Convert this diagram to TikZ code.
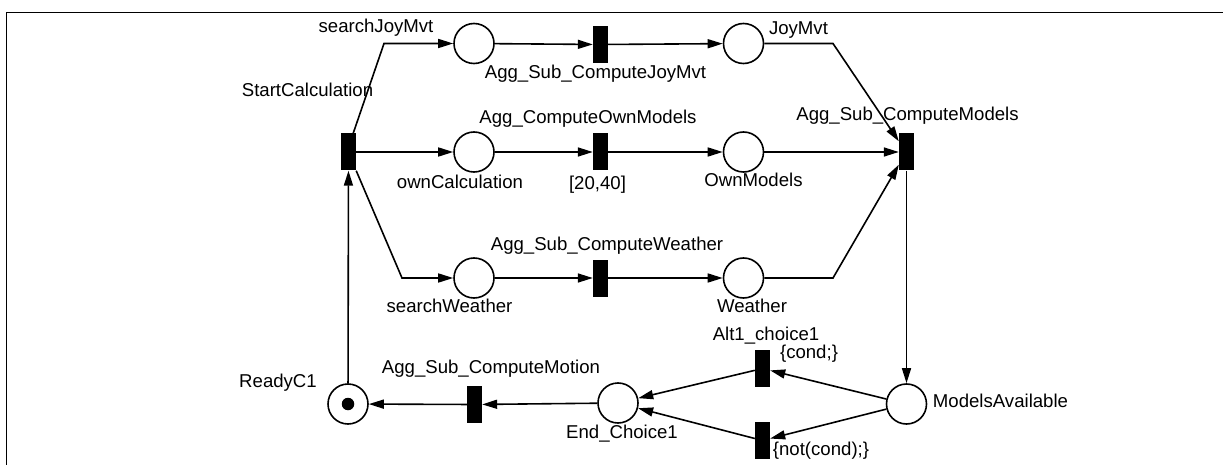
\documentclass[tikz,border=0pt]{standalone}
\usepackage{fontspec}
\setmainfont{Liberation Sans}
\usetikzlibrary{arrows.meta,calc}
\begin{document}
\begin{tikzpicture}[x=1pt,y=-1pt,
  place/.style={circle,draw,line width=1.6pt,minimum size=40pt,inner sep=0pt},
  trans/.style={rectangle,fill=black,minimum width=15pt,minimum height=37pt,inner sep=0pt},
  arc/.style={line width=1.6pt,-{Triangle[length=15pt,width=9pt]}},
  lbl/.style={anchor=base,inner sep=0pt,font=\fontsize{18.6}{22}\selectfont},
  token/.style={circle,fill=black,minimum size=12.5pt,inner sep=0pt}
]
\useasboundingbox (0,0) rectangle (1223,465);
\draw[line width=1pt] (6,470) -- (6,12.5) -- (1230,12.5);

% transitions
\node[trans] (sc)   at (348.5,152) {};
\node[trans] (jm)   at (600.5,44.5) {};
\node[trans] (om)   at (600.5,152) {};
\node[trans] (cw)   at (600.5,278) {};
\node[trans] (asm)  at (906.5,152) {};
\node[trans] (alt)  at (762.5,368.5) {};
\node[trans] (nalt) at (762.5,440.5) {};
\node[trans] (mot)  at (474.5,404.5) {};

% places
\node[place] (sjm) at (474,43.5) {};
\node[place] (joy) at (743.5,43.5) {};
\node[place] (oc)  at (474,152) {};
\node[place] (omd) at (743.5,152) {};
\node[place] (sw)  at (474,278) {};
\node[place] (wea) at (743.5,278) {};
\node[place] (ma)  at (906.5,404) {};
\node[place] (ec)  at (618,403) {};
\node[place] (rc)  at (348,404) {};
\node[token] (tok) at (rc.center) {};

% bend points
\coordinate (b1) at (384,43.5);
\coordinate (b2) at (402,278);
\coordinate (b3) at (833,43.5);
\coordinate (b4) at (833,278);

% connectors
\draw[arc] (rc) -- (sc);
\draw[arc] ([xshift=-3pt]sc.north east) -- (b1) -- (sjm);
\draw[arc] (sc) -- (oc);
\draw[arc] (sc.south east) -- (b2) -- (sw);
\draw[arc] (sjm) -- (jm);
\draw[arc] (jm) -- (joy);
\draw[arc] (oc) -- (om);
\draw[arc] (om) -- (omd);
\draw[arc] (sw) -- (cw);
\draw[arc] (cw) -- (wea);
\draw[arc] (joy) -- (b3) -- ([yshift=-8pt]asm.north west);
\draw[arc] (omd) -- (asm);
\draw[arc] (wea) -- (b4) -- ([yshift=6pt]asm.south west);
\draw[arc] (asm) -- (ma);
\draw[arc] (ma) -- (alt);
\draw[arc] (ma) -- (nalt);
\draw[arc] (alt) -- (ec);
\draw[arc] (nalt) -- (ec);
\draw[arc] (ec) -- (mot);
\draw[arc] (mot) -- (rc);

% labels
\node[lbl] (l1)  at (376,33) {searchJoyMvt};
\node[lbl] (l2)  at (307.5,97) {StartCalculation};
\node[lbl] (l3)  at (595.5,79) {Agg\_Sub\_ComputeJoyMvt};
\node[lbl] (l4)  at (798.5,35) {JoyMvt};
\node[lbl] (l5)  at (588,124) {Agg\_ComputeOwnModels};
\node[lbl] (l6)  at (907.5,121) {Agg\_Sub\_ComputeModels};
\node[lbl] (l7)  at (460,189) {ownCalculation};
\node[lbl] (l8)  at (597.5,190) {[20,40]};
\node[lbl] (l9)  at (753.5,187) {OwnModels};
\node[lbl] (l10) at (607,250) {Agg\_Sub\_ComputeWeather};
\node[lbl] (l11) at (449.5,312) {searchWeather};
\node[lbl] (l12) at (752,312) {Weather};
\node[lbl] (l13) at (766,340) {Alt1\_choice1};
\node[lbl] (l14) at (809,358) {\{cond;\}};
\node[lbl] (l15) at (491,373) {Agg\_Sub\_ComputeMotion};
\node[lbl] (l16) at (278,387) {ReadyC1};
\node[lbl] (l17) at (622,438) {End\_Choice1};
\node[lbl] (l18) at (821,455) {\{not(cond);\}};
\node[lbl] (l19) at (1000.5,407) {ModelsAvailable};
\end{tikzpicture}
\end{document}
